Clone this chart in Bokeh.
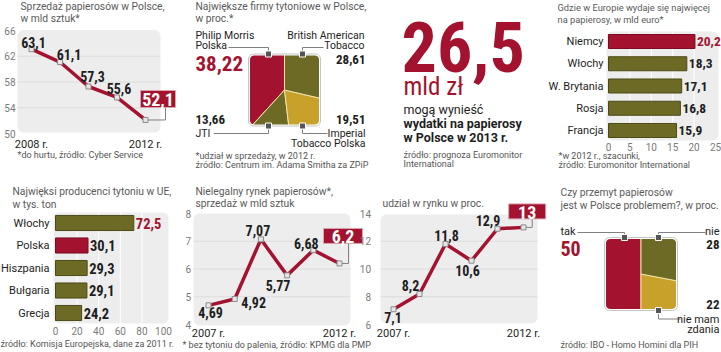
import numpy as np
from bokeh.plotting import figure
from bokeh.models import Range1d
from bokeh.core.properties import value
from bokeh.embed import file_html
from bokeh.resources import INLINE

# ---------------- data ----------------
sales_years = [2008, 2009, 2010, 2011, 2012]
sales_bn = [63.1, 61.1, 57.3, 55.6, 52.1]
sales_ticks = [50, 54, 58, 62, 66]

companies = ["Philip Morris Polska", "JTI", "Imperial Tobacco Polska", "British American Tobacco"]
company_share = [38.22, 13.66, 19.51, 28.61]

spend_countries = ["Niemcy", "Włochy", "W. Brytania", "Rosja", "Francja"]
spend_bn_eur = [20.2, 18.3, 17.1, 16.8, 15.9]
spend_ticks = [0, 5, 10, 15, 20, 25]

producers = ["Włochy", "Polska", "Hiszpania", "Bułgaria", "Grecja"]
production_kt = [72.5, 30.1, 29.3, 29.1, 24.2]
production_ticks = [0, 20, 40, 60, 80, 100]

illegal_years = [2007, 2008, 2009, 2010, 2011, 2012]
illegal_bn = [4.69, 4.92, 7.07, 5.77, 6.68, 6.2]
illegal_ticks = [4, 5, 6, 7, 8]

share_years = [2007, 2008, 2009, 2010, 2011, 2012]
illegal_share = [7.1, 8.2, 11.8, 10.6, 12.9, 13]
share_ticks = [6, 8, 10, 12, 14]

survey_answers = ["tak", "nie mam zdania", "nie"]
survey_pct = [50, 22, 28]

headline_value = 26.5

# ---------------- style ----------------
W, H = 721, 352
RED = "#a3132f"
RED_DARK = "#7a0c22"
OLIVE = "#6c6a24"
OLIVE_DARK = "#4c4a17"
GOLD = "#c8a12a"
BG = "#ededed"
GRID = "#dcdcdc"
TITLE = "#5a5a5a"
NOTE = "#555555"
TICK = "#7a7a7a"
INK = "#1e1e1e"
LEAD = "#808080"
SANS = "Roboto"
NUM = "Roboto Condensed"
TS = 10.3    # title size
MID = 0.34   # baseline -> middle shift, in em


def fmt(v):
    return str(v).replace(".", ",")


p = figure(width=W, height=H, x_range=Range1d(0, W), y_range=Range1d(0, H),
           x_axis_type=None, y_axis_type=None, output_backend="svg",
           toolbar_location=None, min_border=0)
p.outline_line_color = None
p.background_fill_color = "white"
p.border_fill_color = "white"

XR, YR = {}, {}


def xrange_(name, v0, p0, v1, p1):
    k = (p1 - p0) / (v1 - v0)
    XR[name] = Range1d(start=v0 - p0 / k, end=v0 + (W - p0) / k)
    return k


def yrange_(name, v0, p0, v1, p1):
    k = (p1 - p0) / (v1 - v0)
    YR[name] = Range1d(start=v0 + (H - p0) / k, end=v0 - p0 / k)
    return k


def ty(py):
    return H - py


def txt(x, y, s, size, color=INK, font=SANS, bold=False, align="left"):
    # y is the text baseline (pixels from top); placed via the middle anchor
    p.text(x=[x], y=[ty(y - MID * size)], text=[s], text_font=value(font),
           text_font_size=f"{size}px", text_font_style="bold" if bold else "normal",
           text_color=color, text_align=align, text_baseline="middle")


def panel_bg(l, r, t, b, radius=6):
    p.quad(left=[l], right=[r], top=[ty(t)], bottom=[ty(b)], fill_color=BG,
           line_color=None, border_radius=radius)


def leader(pts):
    p.line(x=[a for a, _ in pts], y=[ty(b) for _, b in pts], line_color=LEAD, line_width=1)


def line_chart(tag, years, vals, ticks, xmap, ymap, bg, tick_x, xlab_y,
               ldx, ldy, box, lead):
    xn, yn = tag + "x", tag + "y"
    kx = xrange_(xn, years[0], xmap[0], years[-1], xmap[1])
    ky = yrange_(yn, ticks[0], ymap[0], ticks[-1], ymap[1])
    l, r, t, b = bg
    panel_bg(l, r, t, b)
    inner = ticks[1:-1]
    p.segment(x0=[l] * len(inner), x1=[r] * len(inner), y0=inner, y1=inner,
              y_range_name=yn, line_color=GRID, line_width=1)
    p.text(x=[tick_x] * len(ticks), y=ticks, text=[str(v) for v in ticks], y_range_name=yn,
           text_align="right", text_baseline="middle", text_font=value(SANS),
           text_font_size="10px", text_color=TICK)
    p.text(x=[years[0], years[-1]], y=[ty(xlab_y - MID * 11)] * 2,
           text=[f"{years[0]} r.", f"{years[-1]} r."], x_range_name=xn,
           text_align="center", text_baseline="middle", text_font=value(SANS),
           text_font_size="11px", text_color=INK)
    xl, yl = years[-1], vals[-1]
    bdx, bdy, bw, bh = box
    lx = xl + lead / kx
    ly = yl + (bdy + bh / 2) / ky
    p.line(x=[xl, lx, lx], y=[yl, yl, ly], x_range_name=xn, y_range_name=yn,
           line_color=LEAD, line_width=1)
    p.line(x=years, y=vals, x_range_name=xn, y_range_name=yn, line_color=RED,
           line_width=3.5, line_join="round")
    p.scatter(x=years, y=vals, x_range_name=xn, y_range_name=yn, marker="square",
              size=5, fill_color="#e6e6e6", line_color="#8a8a8a", line_width=1)
    p.text(x=years[:-1], y=vals[:-1], text=[fmt(v) for v in vals[:-1]],
           x_offset=ldx, y_offset=ldy, x_range_name=xn, y_range_name=yn,
           text_align="center", text_baseline="middle", text_font=value(NUM),
           text_font_style="bold", text_font_size="14px", text_color=INK)
    cx_ = xl + bdx / kx
    cy_ = yl + bdy / ky
    p.rect(x=[cx_], y=[cy_], width=bw, height=bh, width_units="screen", height_units="screen",
           x_range_name=xn, y_range_name=yn, fill_color=RED, line_color="#d9a5af", line_width=1)
    p.text(x=[cx_], y=[cy_], text=[fmt(yl)], y_offset=1, x_range_name=xn, y_range_name=yn,
           text_align="center", text_baseline="middle", text_font=value(NUM),
           text_font_style="bold", text_font_size="18px", text_color="white")


def bar_chart(tag, cats, vals, ticks, xmap, ymap, bg, cat_x, tick_y, highlight, bar_h, vsize):
    xn, yn = tag + "x", tag + "y"
    xrange_(xn, 0, xmap[0], ticks[-1], xmap[1])
    yrange_(yn, 0, ymap[0], len(cats) - 1, ymap[1])
    idx = list(range(len(cats)))
    l, r, t, b = bg
    panel_bg(l, r, t, b)
    grid = ticks[1:-1]
    p.segment(x0=grid, x1=grid, y0=[ty(t)] * len(grid), y1=[ty(b)] * len(grid),
              x_range_name=xn, line_color="white", line_width=1)
    fills = [RED if c == highlight else OLIVE for c in cats]
    outl = [RED_DARK if c == highlight else OLIVE_DARK for c in cats]
    p.hbar(y=idx, left=0, right=vals, height=bar_h, fill_color=fills, line_color=outl,
           line_width=1, x_range_name=xn, y_range_name=yn)
    p.text(x=[cat_x] * len(cats), y=idx, text=cats, y_range_name=yn, text_align="right",
           text_baseline="middle", text_font=value(SANS), text_font_size="11px", text_color=INK)
    vmax = max(vals)
    p.text(x=vals, y=idx, text=[fmt(v) for v in vals], x_offset=2, x_range_name=xn,
           y_range_name=yn, text_align="left", text_baseline="middle",
           text_font=value(NUM), text_font_style="bold", text_font_size=f"{vsize}px",
           text_color=[RED if v == vmax else INK for v in vals])
    p.text(x=ticks, y=[ty(tick_y)] * len(ticks), text=[str(v) for v in ticks],
           x_range_name=xn, text_align="center", text_baseline="middle",
           text_font=value(SANS), text_font_size="10px", text_color=TICK)


def rounded_square(h, r, n=7):
    xs, ys = [], []
    for cx_, cy_, a0 in [(h - r, h - r, 0), (-(h - r), h - r, 90),
                         (-(h - r), -(h - r), 180), (h - r, -(h - r), 270)]:
        for a in np.linspace(a0, a0 + 90, n):
            xs.append(cx_ + r * np.cos(np.radians(a)))
            ys.append(cy_ + r * np.sin(np.radians(a)))
    return xs, ys


def square_pie(tag, vals, colors, cx, cy, h):
    xn, yn = tag + "x", tag + "y"
    xrange_(xn, 0, cx, 1, cx + 1)
    yrange_(yn, 0, cy, 1, cy - 1)
    tot = float(sum(vals))
    cum = np.concatenate([[0.0], np.cumsum(vals)]) / tot
    starts = np.pi / 2 + 2 * np.pi * cum[:-1]
    ends = np.pi / 2 + 2 * np.pi * cum[1:]
    n = len(vals)
    R = h * 1.45
    p.wedge(x=[0] * n, y=[0] * n, radius=R, start_angle=list(starts), end_angle=list(ends),
            direction="anticlock", fill_color=colors, line_color="#f1e4a8", line_width=1,
            x_range_name=xn, y_range_name=yn)
    o = R + 3
    hx, hy = rounded_square(h - 1.5, 4)
    p.multi_polygons(xs=[[[[-o, o, o, -o], hx]]], ys=[[[[-o, -o, o, o], hy]]],
                     fill_color="white", line_color=None, x_range_name=xn, y_range_name=yn)
    p.quad(left=[-h], right=[h], top=[h], bottom=[-h], fill_color=None, line_color="#c4c4c4",
           line_width=1, border_radius=5, x_range_name=xn, y_range_name=yn)
    return xn, yn


# ---------------- panel 1: sales line ----------------
txt(20, 10, "Sprzedaż papierosów w Polsce,", TS, TITLE)
txt(20, 22, "w mld sztuk*", TS, TITLE)
line_chart("s", sales_years, sales_bn, sales_ticks, (31, 145), (133, 30), (17, 160, 29.5, 132),
           15, 148, [2, 9, 4, 2], [-7, -7.5, -10, -9], (12.5, -21, 35, 17), 20)
txt(17, 158, "*do hurtu, źródło: Cyber Service", 9, NOTE)

# ---------------- panel 2: companies pie ----------------
txt(195, 10, "Największe firmy tytoniowe w Polsce,", TS, TITLE)
txt(195, 22, "w proc.*", TS, TITLE)
xn, yn = square_pie("c", company_share, [RED, OLIVE, GOLD, OLIVE], 284, 89.5, 36)
leader([(228, 47), (268, 47), (268, 53)])
leader([(323, 47), (302, 47), (302, 53)])
leader([(213, 133), (268, 133), (268, 126)])
leader([(327, 133), (302, 133), (302, 126)])
p.scatter(x=[-16, 18, -16, 18], y=[36, 36, -36, -36], marker="square", size=6,
          fill_color="#555555", line_color="white", line_width=1, x_range_name=xn, y_range_name=yn)
txt(195, 38.5, "Philip Morris", 10.5)
txt(195, 48.5, "Polska", 10.5)
txt(195, 70, fmt(company_share[0]), 21, RED, NUM, True)
txt(364, 38.5, "British American", 10.5, align="right")
txt(364, 48.5, "Tobacco", 10.5, align="right")
txt(365, 63, fmt(company_share[3]), 13, INK, NUM, True, "right")
txt(195, 123, fmt(company_share[1]), 13, INK, NUM, True)
txt(195, 137, "JTI", 10.5)
txt(365, 123, fmt(company_share[2]), 13, INK, NUM, True, "right")
txt(365, 137, "Imperial", 10.5, align="right")
txt(365, 147, "Tobacco Polska", 10.5, align="right")
txt(195, 159, "*udział w sprzedaży, w 2012 r.", 9, NOTE)
txt(195, 168, "źródło: Centrum im. Adama Smitha za ZPiP", 9, NOTE)

# ---------------- panel 3: headline ----------------
txt(401, 70, fmt(headline_value), 70, RED, NUM, True)
txt(403, 94, "mld zł", 25, RED, NUM)
txt(403, 113.5, "mogą wynieść", 12.5)
txt(403, 127, "wydatki na papierosy", 12.5, INK, SANS, True)
txt(403, 141, "w Polsce w 2013 r.", 12.5, INK, SANS, True)
txt(403, 158, "źródło: prognoza Euromonitor", 9, NOTE)
txt(403, 167, "International", 9, NOTE)

# ---------------- panel 4: Europe spending bars ----------------
txt(557, 10, "Gdzie w Europie wydaje się najwięcej", 9.3, TITLE)
txt(557, 22, "na papierosy, w mld euro*", 9.3, TITLE)
bar_chart("e", spend_countries, spend_bn_eur, spend_ticks, (608, 715), (41, 130),
          (606, 718, 31, 140), 603, 146.5, "Niemcy", 0.63, 13.5)
txt(558, 159, "*w 2012 r., szacunki,", 9, NOTE)
txt(558, 168, "źródło: Euromonitor International", 9, NOTE)

# ---------------- panel 5: EU producers bars ----------------
txt(12, 195, "Najwięksi producenci tytoniu w UE,", TS, TITLE)
txt(12, 207.5, "w tys. ton", TS, TITLE)
bar_chart("p", producers, production_kt, production_ticks, (55, 163), (222.5, 312.5),
          (53, 168, 212, 323), 49, 330, "Polska", 0.67, 14.5)
txt(0, 347, "źródło: Komisja Europejska, dane za 2011 r.", 9, NOTE)

# ---------------- panel 6: illegal market ----------------
txt(195, 195, "Nielegalny rynek papierosów*,", TS, TITLE)
txt(195, 207, "sprzedaż w mld sztuk", TS, TITLE)
line_chart("i", illegal_years, illegal_bn, illegal_ticks, (208, 339), (324, 213),
           (193, 350, 213, 325), 190.5, 336.5, [2, 19, -3, -9, -7], [7.5, 3.5, -9, 10, -7],
           (3.5, -27.5, 39, 15), 9)
txt(182, 348, "* bez tytoniu do palenia, źródło: KPMG dla PMP", 9, NOTE)

# ---------------- panel 7: market share ----------------
txt(382, 207, "udział w rynku w proc.", TS, TITLE)
line_chart("u", share_years, illegal_share, share_ticks, (393, 523), (324, 213),
           (380, 537, 214, 323), 370.5, 336.5, [-0.5, -9, 1, -4, -9.5], [8, -8, -8.5, 10, -8],
           (3.7, -16, 37, 15), 8.7)

# ---------------- panel 8: survey pie ----------------
txt(560, 196, "Czy przemyt papierosów", TS, TITLE)
txt(560, 208.5, "jest w Polsce problemem?, w proc.", TS, TITLE)
xn, yn = square_pie("q", survey_pct, [RED, GOLD, OLIVE], 640.5, 273.5, 36.5)
leader([(577, 232), (624, 232), (624, 237)])
leader([(705, 232), (658, 232), (658, 237)])
leader([(658, 310), (658, 318.5), (680, 318.5)])
p.scatter(x=[-16.5, 17.5, 17.5], y=[36.5, 36.5, -36.5], marker="square", size=6,
          fill_color="#555555", line_color="white", line_width=1, x_range_name=xn, y_range_name=yn)
txt(560, 235, survey_answers[0], 11)
txt(560, 255, fmt(survey_pct[0]), 20, RED, NUM, True)
txt(719, 235, survey_answers[2], 11, align="right")
txt(719, 248.5, fmt(survey_pct[2]), 13, INK, NUM, True, "right")
txt(719, 308, fmt(survey_pct[1]), 13, INK, NUM, True, "right")
txt(719, 322.5, "nie mam", 11, align="right")
txt(719, 332.5, "zdania", 11, align="right")
txt(560, 348, "źródło: IBO - Homo Homini dla PIH", 9, NOTE)

p.extra_x_ranges = XR
p.extra_y_ranges = YR

open("out.html", "w").write(file_html(p, INLINE))
